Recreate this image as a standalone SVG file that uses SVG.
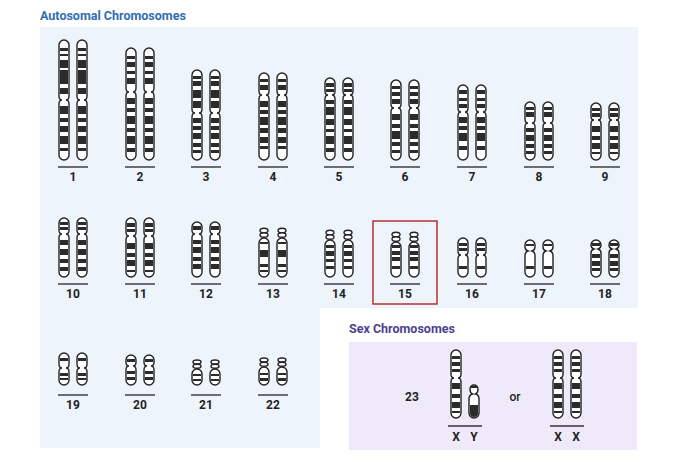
<svg xmlns="http://www.w3.org/2000/svg" xmlns:xlink="http://www.w3.org/1999/xlink" width="680" height="468" viewBox="0 0 680 468">
<style>
.o{fill:#fff;stroke:#222;stroke-width:1.4}
.b{fill:#2b2b2b}
.u{stroke:#333;stroke-width:1.4}
.n{font-family:Roboto,"Liberation Sans",sans-serif;font-size:12px;font-weight:700;fill:#222;text-anchor:middle}
.t{font-family:Roboto,"Liberation Sans",sans-serif;font-size:12.5px;font-weight:700}
</style>
<rect width="680" height="468" fill="#fff"/>
<path d="M40,27H638V308H320V448H40Z" fill="#eef4fc"/>
<text class="t" x="40" y="20" fill="#2f6db3">Autosomal Chromosomes</text>
<text class="t" x="349" y="333" fill="#4b3f8f">Sex Chromosomes</text>
<rect x="349" y="342" width="288" height="108" fill="#efeaf9"/>
<g id="nodes">
<g id="chr1" transform="translate(64,0)"><g id="k1"><path class="o" d="M-5,45A5,5 0 0 1 5,45L5,96Q5,100 2,100Q5,100 5,104L5,155A5,5 0 0 1 -5,155L-5,104Q-5,100 -2,100Q-5,100 -5,96Z"/><rect class="b" x="-4" y="48" width="8" height="3"/><rect class="b" x="-4" y="54" width="8" height="2"/><rect class="b" x="-4" y="60" width="8" height="8"/><rect class="b" x="-4" y="70" width="8" height="14"/><rect class="b" x="-4" y="88" width="8" height="6"/><rect class="b" x="-4" y="106" width="8" height="8"/><rect class="b" x="-4" y="118" width="8" height="4"/><rect class="b" x="-4" y="126" width="8" height="6"/><rect class="b" x="-4" y="136" width="8" height="8"/><rect class="b" x="-4" y="148" width="8" height="3"/></g><use xlink:href="#k1" x="18"/><line class="u" x1="-6" y1="167" x2="24" y2="167"/><text class="n" x="9" y="181">1</text></g>
<g id="chr2" transform="translate(131,0)"><g id="k2"><path class="o" d="M-5,53A5,5 0 0 1 5,53L5,88Q5,92 2,92Q5,92 5,96L5,155A5,5 0 0 1 -5,155L-5,96Q-5,92 -2,92Q-5,92 -5,88Z"/><rect class="b" x="-4" y="56" width="8" height="3"/><rect class="b" x="-4" y="62" width="8" height="5"/><rect class="b" x="-4" y="71" width="8" height="3"/><rect class="b" x="-4" y="78" width="8" height="6"/><rect class="b" x="-4" y="98" width="8" height="6"/><rect class="b" x="-4" y="108" width="8" height="4"/><rect class="b" x="-4" y="116" width="8" height="8"/><rect class="b" x="-4" y="128" width="8" height="4"/><rect class="b" x="-4" y="136" width="8" height="8"/><rect class="b" x="-4" y="148" width="8" height="4"/></g><use xlink:href="#k2" x="18"/><line class="u" x1="-6" y1="167" x2="24" y2="167"/><text class="n" x="9" y="181">2</text></g>
<g id="chr3" transform="translate(197,0)"><g id="k3"><path class="o" d="M-5,75A5,5 0 0 1 5,75L5,109Q5,113 2,113Q5,113 5,117L5,155A5,5 0 0 1 -5,155L-5,117Q-5,113 -2,113Q-5,113 -5,109Z"/><rect class="b" x="-4" y="76" width="8" height="3"/><rect class="b" x="-4" y="81" width="8" height="5"/><rect class="b" x="-4" y="90" width="8" height="8"/><rect class="b" x="-4" y="101" width="8" height="7"/><rect class="b" x="-4" y="118" width="8" height="5"/><rect class="b" x="-4" y="126" width="8" height="4"/><rect class="b" x="-4" y="133" width="8" height="6"/><rect class="b" x="-4" y="143" width="8" height="4"/><rect class="b" x="-4" y="150" width="8" height="3"/></g><use xlink:href="#k3" x="18"/><line class="u" x1="-6" y1="167" x2="24" y2="167"/><text class="n" x="9" y="181">3</text></g>
<g id="chr4" transform="translate(264,0)"><g id="k4"><path class="o" d="M-5,78A5,5 0 0 1 5,78L5,91Q5,95 2,95Q5,95 5,99L5,155A5,5 0 0 1 -5,155L-5,99Q-5,95 -2,95Q-5,95 -5,91Z"/><rect class="b" x="-4" y="79" width="8" height="3"/><rect class="b" x="-4" y="85" width="8" height="5"/><rect class="b" x="-4" y="101" width="8" height="6"/><rect class="b" x="-4" y="110" width="8" height="4"/><rect class="b" x="-4" y="117" width="8" height="8"/><rect class="b" x="-4" y="128" width="8" height="5"/><rect class="b" x="-4" y="137" width="8" height="6"/><rect class="b" x="-4" y="146" width="8" height="3"/></g><use xlink:href="#k4" x="18"/><line class="u" x1="-6" y1="167" x2="24" y2="167"/><text class="n" x="9" y="181">4</text></g>
<g id="chr5" transform="translate(330,0)"><g id="k5"><path class="o" d="M-5,83A5,5 0 0 1 5,83L5,91Q5,95 2,95Q5,95 5,99L5,155A5,5 0 0 1 -5,155L-5,99Q-5,95 -2,95Q-5,95 -5,91Z"/><rect class="b" x="-4" y="83" width="8" height="4"/><rect class="b" x="-4" y="89" width="8" height="3"/><rect class="b" x="-4" y="100" width="8" height="4"/><rect class="b" x="-4" y="107" width="8" height="8"/><rect class="b" x="-4" y="119" width="8" height="6"/><rect class="b" x="-4" y="129" width="8" height="3"/><rect class="b" x="-4" y="136" width="8" height="8"/><rect class="b" x="-4" y="148" width="8" height="4"/></g><use xlink:href="#k5" x="18"/><line class="u" x1="-6" y1="167" x2="24" y2="167"/><text class="n" x="9" y="181">5</text></g>
<g id="chr6" transform="translate(396,0)"><g id="k6"><path class="o" d="M-5,85A5,5 0 0 1 5,85L5,104Q5,108 2,108Q5,108 5,112L5,155A5,5 0 0 1 -5,155L-5,112Q-5,108 -2,108Q-5,108 -5,104Z"/><rect class="b" x="-4" y="86" width="8" height="3"/><rect class="b" x="-4" y="92" width="8" height="4"/><rect class="b" x="-4" y="99" width="8" height="5"/><rect class="b" x="-4" y="114" width="8" height="6"/><rect class="b" x="-4" y="124" width="8" height="4"/><rect class="b" x="-4" y="131" width="8" height="8"/><rect class="b" x="-4" y="142" width="8" height="4"/><rect class="b" x="-4" y="150" width="8" height="3"/></g><use xlink:href="#k6" x="18"/><line class="u" x1="-6" y1="167" x2="24" y2="167"/><text class="n" x="9" y="181">6</text></g>
<g id="chr7" transform="translate(463,0)"><g id="k7"><path class="o" d="M-5,90A5,5 0 0 1 5,90L5,108Q5,112 2,112Q5,112 5,116L5,155A5,5 0 0 1 -5,155L-5,116Q-5,112 -2,112Q-5,112 -5,108Z"/><rect class="b" x="-4" y="90" width="8" height="4"/><rect class="b" x="-4" y="98" width="8" height="3"/><rect class="b" x="-4" y="104" width="8" height="4"/><rect class="b" x="-4" y="117" width="8" height="6"/><rect class="b" x="-4" y="126" width="8" height="4"/><rect class="b" x="-4" y="133" width="8" height="8"/><rect class="b" x="-4" y="146" width="8" height="4"/></g><use xlink:href="#k7" x="18"/><line class="u" x1="-6" y1="167" x2="24" y2="167"/><text class="n" x="9" y="181">7</text></g>
<g id="chr8" transform="translate(530,0)"><g id="k8"><path class="o" d="M-5,107A5,5 0 0 1 5,107L5,119Q5,123 2,123Q5,123 5,127L5,155A5,5 0 0 1 -5,155L-5,127Q-5,123 -2,123Q-5,123 -5,119Z"/><rect class="b" x="-4" y="107" width="8" height="3"/><rect class="b" x="-4" y="112" width="8" height="5"/><rect class="b" x="-4" y="128" width="8" height="4"/><rect class="b" x="-4" y="135" width="8" height="6"/><rect class="b" x="-4" y="144" width="8" height="4"/><rect class="b" x="-4" y="151" width="8" height="3"/></g><use xlink:href="#k8" x="18"/><line class="u" x1="-6" y1="167" x2="24" y2="167"/><text class="n" x="9" y="181">8</text></g>
<g id="chr9" transform="translate(596,0)"><g id="k9"><path class="o" d="M-5,108A5,5 0 0 1 5,108L5,116Q5,120 2,120Q5,120 5,124L5,155A5,5 0 0 1 -5,155L-5,124Q-5,120 -2,120Q-5,120 -5,116Z"/><rect class="b" x="-4" y="108" width="8" height="3"/><rect class="b" x="-4" y="113" width="8" height="4"/><rect class="b" x="-4" y="126" width="8" height="6"/><rect class="b" x="-4" y="136" width="8" height="4"/><rect class="b" x="-4" y="143" width="8" height="6"/><rect class="b" x="-4" y="152" width="8" height="2"/></g><use xlink:href="#k9" x="18"/><line class="u" x1="-6" y1="167" x2="24" y2="167"/><text class="n" x="9" y="181">9</text></g>

<g id="chr10" transform="translate(64,0)"><g id="k10"><path class="o" d="M-5,223A5,5 0 0 1 5,223L5,230Q5,234 2,234Q5,234 5,238L5,272A5,5 0 0 1 -5,272L-5,238Q-5,234 -2,234Q-5,234 -5,230Z"/><rect class="b" x="-4" y="222" width="8" height="3"/><rect class="b" x="-4" y="227" width="8" height="3"/><rect class="b" x="-4" y="240" width="8" height="5"/><rect class="b" x="-4" y="249" width="8" height="6"/><rect class="b" x="-4" y="259" width="8" height="4"/><rect class="b" x="-4" y="267" width="8" height="4"/></g><use xlink:href="#k10" x="18"/><line class="u" x1="-6" y1="284" x2="24" y2="284"/><text class="n" x="9" y="298">10</text></g>
<g id="chr11" transform="translate(131,0)"><g id="k11"><path class="o" d="M-5,223A5,5 0 0 1 5,223L5,232Q5,236 2,236Q5,236 5,240L5,272A5,5 0 0 1 -5,272L-5,240Q-5,236 -2,236Q-5,236 -5,232Z"/><rect class="b" x="-4" y="223" width="8" height="4"/><rect class="b" x="-4" y="229" width="8" height="3"/><rect class="b" x="-4" y="243" width="8" height="6"/><rect class="b" x="-4" y="253" width="8" height="4"/><rect class="b" x="-4" y="260" width="8" height="6"/><rect class="b" x="-4" y="270" width="8" height="2"/></g><use xlink:href="#k11" x="18"/><line class="u" x1="-6" y1="284" x2="24" y2="284"/><text class="n" x="9" y="298">11</text></g>
<g id="chr12" transform="translate(197,0)"><g id="k12"><path class="o" d="M-5,227A5,5 0 0 1 5,227L5,230Q5,234 2,234Q5,234 5,238L5,272A5,5 0 0 1 -5,272L-5,238Q-5,234 -2,234Q-5,234 -5,230Z"/><rect class="b" x="-4" y="226" width="8" height="4"/><rect class="b" x="-4" y="240" width="8" height="4"/><rect class="b" x="-4" y="247" width="8" height="6"/><rect class="b" x="-4" y="257" width="8" height="4"/><rect class="b" x="-4" y="264" width="8" height="5"/></g><use xlink:href="#k12" x="18"/><line class="u" x1="-6" y1="284" x2="24" y2="284"/><text class="n" x="9" y="298">12</text></g>
<g id="chr13" transform="translate(264,0)"><g id="k13"><ellipse class="o" cx="0" cy="230.5" rx="4" ry="2.2"/><ellipse class="o" cx="0" cy="235" rx="4" ry="2.2"/><path class="o" d="M-5,243A5,5 0 0 1 5,243L5,272A5,5 0 0 1 -5,272Z"/><rect class="b" x="-4" y="242" width="8" height="2"/><rect class="b" x="-4" y="250" width="8" height="7"/><rect class="b" x="-4" y="264" width="8" height="3"/><rect class="b" x="-4" y="270" width="8" height="2"/></g><use xlink:href="#k13" x="18"/><line class="u" x1="-6" y1="284" x2="24" y2="284"/><text class="n" x="9" y="298">13</text></g>
<g id="chr14" transform="translate(330,0)"><g id="k14"><ellipse class="o" cx="0" cy="232.5" rx="4" ry="2.2"/><ellipse class="o" cx="0" cy="237" rx="4" ry="2.2"/><path class="o" d="M-5,245A5,5 0 0 1 5,245L5,272A5,5 0 0 1 -5,272Z"/><rect class="b" x="-4" y="245" width="8" height="3"/><rect class="b" x="-4" y="251" width="8" height="5"/><rect class="b" x="-4" y="259" width="8" height="3"/><rect class="b" x="-4" y="266" width="8" height="3"/></g><use xlink:href="#k14" x="18"/><line class="u" x1="-6" y1="284" x2="24" y2="284"/><text class="n" x="9" y="298">14</text></g>
<g id="chr15" transform="translate(396,0)"><g id="k15"><ellipse class="o" cx="0" cy="234.5" rx="4" ry="2.2"/><ellipse class="o" cx="0" cy="239" rx="4" ry="2.2"/><path class="o" d="M-5,247A5,5 0 0 1 5,247L5,272A5,5 0 0 1 -5,272Z"/><rect class="b" x="-4" y="245" width="8" height="3"/><rect class="b" x="-4" y="251" width="8" height="4"/><rect class="b" x="-4" y="257" width="8" height="4"/><rect class="b" x="-4" y="266" width="8" height="3"/></g><use xlink:href="#k15" x="18"/><line class="u" x1="-6" y1="284" x2="24" y2="284"/><text class="n" x="9" y="298">15</text></g>
<rect x="373" y="221" width="64" height="83" fill="none" stroke="#b8302c" stroke-width="1.5"/>
<g id="chr16" transform="translate(463,0)"><g id="k16"><path class="o" d="M-5,243A5,5 0 0 1 5,243L5,251Q5,255 2,255Q5,255 5,259L5,272A5,5 0 0 1 -5,272L-5,259Q-5,255 -2,255Q-5,255 -5,251Z"/><rect class="b" x="-4" y="243" width="8" height="3"/><rect class="b" x="-4" y="248" width="8" height="3"/><rect class="b" x="-4" y="266" width="8" height="3"/></g><use xlink:href="#k16" x="18"/><line class="u" x1="-6" y1="284" x2="24" y2="284"/><text class="n" x="9" y="298">16</text></g>
<g id="chr17" transform="translate(530,0)"><g id="k17"><path class="o" d="M-5,245A5,5 0 0 1 5,245L5,247Q5,250 2,251Q5,252 5,256L5,272A5,5 0 0 1 -5,272L-5,256Q-5,252 -2,251Q-5,250 -5,247Z"/><rect class="b" x="-4" y="244" width="8" height="2"/><rect class="b" x="-4" y="266" width="8" height="3"/></g><use xlink:href="#k17" x="18"/><line class="u" x1="-6" y1="284" x2="24" y2="284"/><text class="n" x="9" y="298">17</text></g>
<g id="chr18" transform="translate(596,0)"><g id="k18"><path class="o" d="M-5,245A5,5 0 0 1 5,245Q5,248 2,249Q5,250 5,253L5,272A5,5 0 0 1 -5,272L-5,253Q-5,250 -2,249Q-5,248 -5,245Z"/><rect class="b" x="-4" y="243" width="8" height="3"/><rect class="b" x="-4" y="254" width="8" height="4"/><rect class="b" x="-4" y="261" width="8" height="5"/><rect class="b" x="-4" y="268" width="8" height="3"/></g><use xlink:href="#k18" x="18"/><line class="u" x1="-6" y1="284" x2="24" y2="284"/><text class="n" x="9" y="298">18</text></g>

<g id="chr19" transform="translate(64,0)"><g id="k19"><path class="o" d="M-5,358A5,5 0 0 1 5,358L5,364Q5,368 2,368Q5,368 5,372L5,380A5,5 0 0 1 -5,380L-5,372Q-5,368 -2,368Q-5,368 -5,364Z"/><rect class="b" x="-4" y="358" width="8" height="3"/><rect class="b" x="-4" y="373" width="8" height="3"/><rect class="b" x="-4" y="378" width="8" height="2"/></g><use xlink:href="#k19" x="18"/><line class="u" x1="-6" y1="395" x2="24" y2="395"/><text class="n" x="9" y="409">19</text></g>
<g id="chr20" transform="translate(131,0)"><g id="k20"><path class="o" d="M-5,360A5,5 0 0 1 5,360L5,362Q5,366 2,366Q5,366 5,370L5,380A5,5 0 0 1 -5,380L-5,370Q-5,366 -2,366Q-5,366 -5,362Z"/><rect class="b" x="-4" y="359" width="8" height="3"/><rect class="b" x="-4" y="371" width="8" height="3"/><rect class="b" x="-4" y="377" width="8" height="3"/></g><use xlink:href="#k20" x="18"/><line class="u" x1="-6" y1="395" x2="24" y2="395"/><text class="n" x="9" y="409">20</text></g>
<g id="chr21" transform="translate(197,0)"><g id="k21"><ellipse class="o" cx="0" cy="362" rx="4" ry="2"/><ellipse class="o" cx="0" cy="366.2" rx="4" ry="2"/><path class="o" d="M-5,374A5,5 0 0 1 5,374L5,380A5,5 0 0 1 -5,380Z"/><rect class="b" x="-4" y="374" width="8" height="2"/><rect class="b" x="-4" y="379" width="8" height="2"/></g><use xlink:href="#k21" x="18"/><line class="u" x1="-6" y1="395" x2="24" y2="395"/><text class="n" x="9" y="409">21</text></g>
<g id="chr22" transform="translate(264,0)"><g id="k22"><ellipse class="o" cx="0" cy="360" rx="4" ry="2"/><ellipse class="o" cx="0" cy="364.2" rx="4" ry="2"/><path class="o" d="M-5,372A5,5 0 0 1 5,372L5,380A5,5 0 0 1 -5,380Z"/><rect class="b" x="-4" y="373" width="8" height="2"/><rect class="b" x="-4" y="378" width="8" height="3"/></g><use xlink:href="#k22" x="18"/><line class="u" x1="-6" y1="395" x2="24" y2="395"/><text class="n" x="9" y="409">22</text></g>

<g id="chr23">
<text class="n" x="412" y="401">23</text>
<g id="kX" transform="translate(456,0)"><path class="o" d="M-5,355A5,5 0 0 1 5,355L5,374Q5,378 2,378Q5,378 5,382L5,413A5,5 0 0 1 -5,413L-5,382Q-5,378 -2,378Q-5,378 -5,374Z"/><rect class="b" x="-4" y="356" width="8" height="3"/><rect class="b" x="-4" y="362" width="8" height="4"/><rect class="b" x="-4" y="369" width="8" height="3"/><rect class="b" x="-4" y="383" width="8" height="6"/><rect class="b" x="-4" y="394" width="8" height="4"/><rect class="b" x="-4" y="402" width="8" height="6"/><rect class="b" x="-4" y="411" width="8" height="2"/></g>
<g transform="translate(474,0)"><path class="o" d="M-4,389A4,4 0 0 1 4,389Q4,393 1.5,394Q5,395 5,399L5,413A5,5 0 0 1 -5,413L-5,399Q-5,395 -1.5,394Q-4,393 -4,389Z"/><rect class="b" x="-4" y="386" width="8" height="2"/><path class="b" d="M-4,405H4V413A4,4 0 0 1 -4,413Z"/></g>
<line class="u" x1="448" y1="426" x2="482" y2="426"/>
<text class="n" x="456" y="441">X</text><text class="n" x="474" y="441">Y</text>
<text class="n" x="515" y="401" style="font-weight:500">or</text>
<use xlink:href="#kX" x="102"/><use xlink:href="#kX" x="120"/>
<line class="u" x1="550" y1="426" x2="584" y2="426"/>
<text class="n" x="558" y="441">X</text><text class="n" x="576" y="441">X</text>
</g>
</g>
<g id="connectors"/>
</svg>
